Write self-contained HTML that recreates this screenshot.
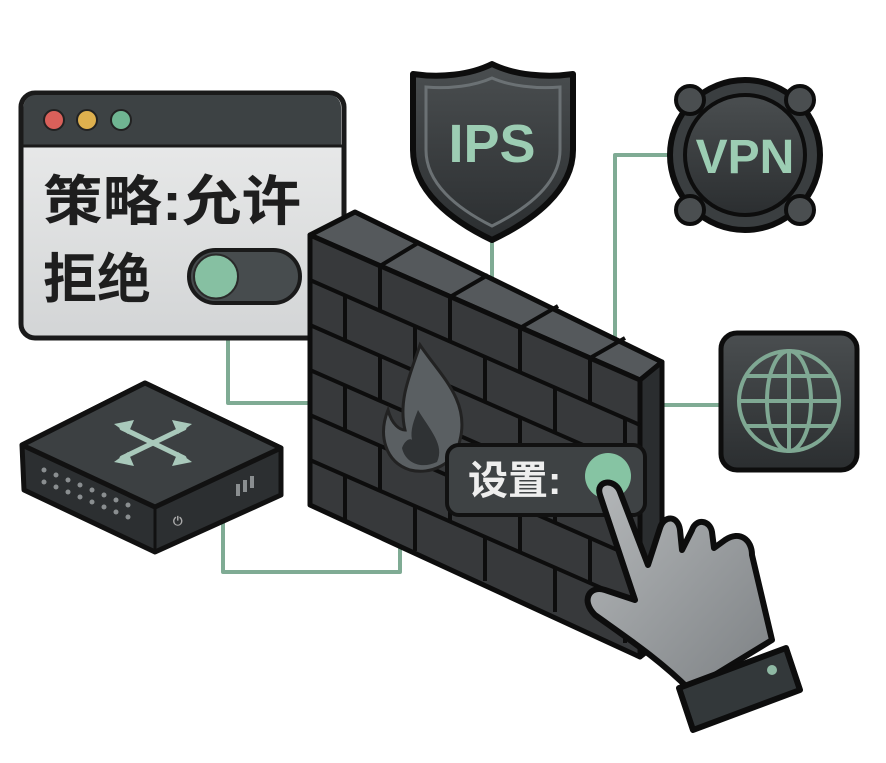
<!DOCTYPE html>
<html><head><meta charset="utf-8"><style>
html,body{margin:0;padding:0;background:#fff;width:886px;height:763px;overflow:hidden}
svg{display:block}
text{font-family:"Liberation Sans","Noto Sans CJK SC",sans-serif;font-weight:bold}
</style></head><body>
<svg width="886" height="763" viewBox="0 0 886 763" xmlns="http://www.w3.org/2000/svg">
<defs>
<linearGradient id="dk" x1="0" y1="0" x2="0" y2="1"><stop offset="0" stop-color="#4a4e50"/><stop offset="1" stop-color="#2b2e30"/></linearGradient>
<linearGradient id="gl" x1="0" y1="0" x2="1" y2="1"><stop offset="0" stop-color="#b5b8ba"/><stop offset="1" stop-color="#7d8184"/></linearGradient>
<linearGradient id="win" x1="0" y1="0" x2="0" y2="1"><stop offset="0" stop-color="#eceded"/><stop offset="1" stop-color="#d3d5d6"/></linearGradient>
</defs>
<!-- connectors -->
<g fill="none" stroke="#7fab94" stroke-width="4" stroke-linejoin="round">
<path d="M228 335 V403 H315"/>
<path d="M223 520 V572 H400 V540"/>
<path d="M492 232 V280"/>
<path d="M668 155 H615 V340"/>
<path d="M655 405 H722"/>
</g>
<!-- window -->
<rect x="21" y="93" width="323" height="245" rx="14" fill="url(#win)" stroke="#1a1a1a" stroke-width="5"/>
<path d="M23.5 145 V107 a12 12 0 0 1 12-12 H329 a12 12 0 0 1 12 12 V145 Z" fill="#3d4244"/>
<line x1="22" y1="146" x2="343" y2="146" stroke="#1a1a1a" stroke-width="3"/>
<circle cx="54" cy="120" r="10" fill="#d9605a" stroke="#222" stroke-width="2"/>
<circle cx="87" cy="120" r="10" fill="#deb04e" stroke="#222" stroke-width="2"/>
<circle cx="121" cy="120" r="10" fill="#6fb592" stroke="#222" stroke-width="2"/>
<text x="43" y="220" font-size="54" fill="#1e1e1e" textLength="258" lengthAdjust="spacingAndGlyphs">策略:允许</text>
<text x="43" y="298" font-size="54" fill="#1e1e1e">拒绝</text>
<rect x="189" y="250" width="111" height="53" rx="26.5" fill="#474c4e" stroke="#1a1a1a" stroke-width="4"/>
<circle cx="216" cy="276.5" r="22" fill="#86c0a2" stroke="#2a2a2a" stroke-width="2"/>
<!-- switch -->
<g stroke="#111" stroke-width="5" stroke-linejoin="round">
<path d="M22 445 L145 383 L281 448 L281 495 L155 552 L24 490 Z" fill="#2c2f31"/>
<path d="M22 445 L145 383 L281 448 L155 507 Z" fill="#3c4042"/>
<path d="M155 507 V550" fill="none" stroke-width="3"/>
</g>
<g stroke="#a9c9bb" stroke-width="5" stroke-linecap="round"><line x1="122" y1="428" x2="184" y2="458"/><line x1="122" y1="458" x2="184" y2="428"/></g>
<g fill="#a9c9bb"><path d="M114 424 l20 -4 -6 14z M192 424 l-20 -4 6 14z M114 462 l20 4 -6 -14z M192 462 l-20 4 6 -14z"/></g>
<g fill="#8a8e90">
<circle cx="44" cy="470" r="2.5"/><circle cx="56" cy="475" r="2.5"/><circle cx="68" cy="480" r="2.5"/><circle cx="80" cy="485" r="2.5"/><circle cx="92" cy="490" r="2.5"/><circle cx="104" cy="495" r="2.5"/><circle cx="116" cy="500" r="2.5"/><circle cx="128" cy="505" r="2.5"/>
<circle cx="44" cy="482" r="2.5"/><circle cx="56" cy="487" r="2.5"/><circle cx="68" cy="492" r="2.5"/><circle cx="80" cy="497" r="2.5"/><circle cx="92" cy="502" r="2.5"/><circle cx="104" cy="507" r="2.5"/><circle cx="116" cy="512" r="2.5"/><circle cx="128" cy="517" r="2.5"/>
<rect x="236" y="484" width="4" height="12"/><rect x="243" y="480" width="4" height="12"/><rect x="250" y="476" width="4" height="12"/>
</g>
<text x="173" y="525" font-size="12" fill="#aaa">⏻</text>
<!-- wall -->
<g stroke="#0d0d0d" stroke-width="5" stroke-linejoin="round">
<path d="M310 235 L355 212 L662 362 L640 380 Z" fill="#55595c"/>
<path d="M640 380 L662 362 L662 640 L640 657 Z" fill="#2a2d2f"/>
<path d="M310 235 L640 380 L640 657 L310 505 Z" fill="#37393b"/>
</g>
<g stroke="#0d0d0d" stroke-width="4" fill="none">
<path d="M380 266 L418 243 M450 297 L488 275 M520 328 L558 306 M590 358 L625 338"/>
<path d="M310 280 L640 425 M310 325 L640 470 M310 370 L640 515 M310 415 L640 560 M310 460 L640 605"/>
<path d="M380 266 V311 M450 297 V342 M520 328 V373 M590 358 V403
M345 295 V340 M415 326 V371 M485 356 V401 M555 387 V432 M625 418 V463
M380 356 V401 M450 387 V432 M520 418 V463 M590 449 V494
M345 385 V430 M415 416 V461 M485 446 V491 M555 477 V522 M625 508 V553
M380 446 V491 M450 477 V522 M520 508 V553 M590 539 V584
M345 475 V520 M415 506 V551 M485 536 V581 M555 567 V612 M625 598 V643"/>
</g>
<path d="M420 345 C440 375 470 400 460 440 C455 465 430 475 410 470 C385 462 378 435 388 410 C392 425 400 430 405 430 C398 400 410 375 420 345 Z" fill="#5a5f62" stroke="#222" stroke-width="3"/>
<path d="M418 410 C430 430 445 445 437 462 C420 470 405 462 402 448 C405 440 410 438 412 440 C410 430 414 420 418 410Z" fill="#2f3234"/>
<!-- settings label -->
<rect x="447" y="445" width="198" height="70" rx="12" fill="#3e4244" stroke="#111" stroke-width="4"/>
<text x="468" y="494" font-size="40" fill="#eeeeee">设置:</text>
<circle cx="608" cy="476" r="23" fill="#86c4a3"/>
<!-- hand -->
<path d="M600 495 C595 480 615 478 620 492 L648 565 L660 528 C664 515 678 515 680 530 L682 550 L692 530 C696 518 710 520 712 532 L714 548 L725 540 C740 530 752 540 752 555 L772 640 L690 690 C660 660 630 640 595 615 C580 600 590 585 605 590 L635 600 Z" fill="url(#gl)" stroke="#0d0d0d" stroke-width="6" stroke-linejoin="round"/>
<path d="M679 688 L786 648 L800 690 L693 730 Z" fill="#33383a" stroke="#0d0d0d" stroke-width="6" stroke-linejoin="round"/>
<circle cx="772" cy="670" r="5" fill="#8fb9a4"/>
<!-- shield IPS -->
<path d="M492 64 C470 75 440 78 413 74 V150 C413 190 450 220 492 240 C534 220 573 190 573 150 V74 C546 78 514 75 492 64 Z" fill="url(#dk)" stroke="#0d0d0d" stroke-width="6" stroke-linejoin="round"/>
<path d="M492 78 C474 86 450 89 426 87 V150 C426 183 456 208 492 226 C528 208 560 183 560 150 V87 C536 89 510 86 492 78 Z" fill="none" stroke="#6b7174" stroke-width="3"/>
<text x="492" y="162" font-size="54" fill="#9ccdb3" text-anchor="middle">IPS</text>
<!-- VPN -->
<circle cx="745" cy="155" r="75" fill="#3a3e40" stroke="#0d0d0d" stroke-width="6"/>
<circle cx="745" cy="155" r="60" fill="url(#dk)" stroke="#0d0d0d" stroke-width="4"/>
<g fill="#4a4e50" stroke="#0d0d0d" stroke-width="4">
<circle cx="690" cy="100" r="14"/><circle cx="800" cy="100" r="14"/><circle cx="690" cy="210" r="14"/><circle cx="800" cy="210" r="14"/></g>
<text x="745" y="173" font-size="48" fill="#9ccdb3" text-anchor="middle">VPN</text>
<!-- globe -->
<rect x="721" y="333" width="136" height="137" rx="16" fill="url(#dk)" stroke="#0d0d0d" stroke-width="5"/>
<g fill="none" stroke="#7fa893" stroke-width="4">
<circle cx="789" cy="401" r="50"/><ellipse cx="789" cy="401" rx="22" ry="50"/>
<line x1="789" y1="351" x2="789" y2="451"/><line x1="739" y1="401" x2="839" y2="401"/>
<path d="M746 376 H832 M746 426 H832"/></g>
</svg>
</body></html>
